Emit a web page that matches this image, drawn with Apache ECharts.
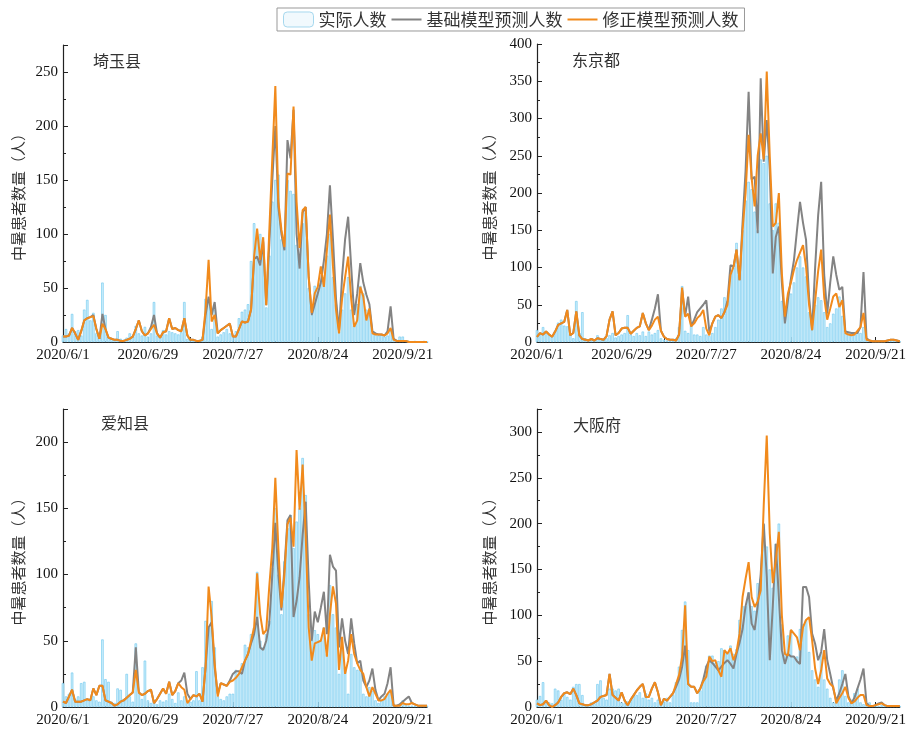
<!DOCTYPE html>
<html>
<head>
<meta charset="utf-8">
<title>中暑患者数量</title>
<script src="https://cdn.jsdelivr.net/npm/echarts@6/dist/echarts.min.js"></script>
<style>
  html, body { margin: 0; padding: 0; background: #fff; }
  #main { width: 909px; height: 729px; }
</style>
</head>
<body>
<div id="main"></div>
<script type="text/javascript">
// 日期：2020/6/1 起共 121 天
var dates = [];
for (var i = 0; i < 121; i++) {
    var dt = new Date(2020, 5, 1 + i);
    dates.push('2020/' + (dt.getMonth() + 1) + '/' + dt.getDate());
}

var seriesNames = ['实际人数', '基础模型预测人数', '修正模型预测人数'];
var regionNames = ['埼玉县', '东京都', '爱知县', '大阪府'];
var yMax = [275, 400, 225, 325];

// 埼玉县
var saitamaActual = [
    6, 12, 8, 26, 10, 11, 6, 30, 39, 20,
    27, 8, 4, 55, 25, 5, 3, 2, 10, 3,
    2, 4, 8, 5, 15, 8, 6, 14, 5, 8,
    37, 6, 5, 11, 7, 10, 9, 8, 7, 9,
    37, 3, 2, 1, 1, 2, 5, 40, 38, 12,
    30, 5, 7, 9, 12, 8, 6, 10, 22, 28,
    30, 35, 75, 110, 95, 100, 85, 32, 80, 130,
    150, 155, 95, 88, 150, 140, 137, 90, 75, 110,
    120, 50, 25, 52, 50, 55, 60, 80, 100, 60,
    35, 10, 30, 45, 60, 30, 15, 35, 52, 45,
    30, 25, 8, 8, 6, 7, 5, 6, 10, 3,
    2, 5, 5, 1, 1, 0, 1, 0, 0, 1, 0
];
var saitamaBase = [
    5, 5, 6, 13, 8, 2, 10, 20, 22, 23,
    25, 12, 3, 26, 12, 4, 3, 2, 2, 1,
    1, 2, 3, 5, 12, 20, 10, 6, 8, 14,
    25, 8, 4, 9, 10, 22, 12, 13, 11, 10,
    22, 6, 2, 2, 1, 1, 2, 25, 42, 25,
    37, 8, 11, 13, 15, 17, 5, 5, 12, 19,
    18, 19, 30, 77, 79, 71, 93, 34, 90, 150,
    200, 125, 100, 85, 187, 170, 215, 100, 68, 120,
    125, 60, 25, 35, 45, 55, 75, 100, 145, 95,
    40, 10, 60, 95, 116, 70, 25, 45, 73, 55,
    44, 35, 10, 8, 7, 7, 6, 10, 33, 3,
    1, 1, 1, 1, 0, 0, 0, 0, 0, 0, 0
];
var saitamaFix = [
    5, 5, 6, 13, 8, 2, 10, 20, 22, 23,
    24, 12, 3, 17, 12, 4, 3, 2, 2, 1,
    1, 2, 3, 5, 12, 20, 10, 6, 8, 12,
    16, 8, 4, 9, 10, 22, 12, 13, 11, 10,
    22, 6, 2, 2, 1, 1, 2, 30, 76, 19,
    25, 8, 11, 13, 15, 17, 5, 5, 12, 19,
    18, 19, 30, 79, 105, 76, 97, 34, 102, 170,
    237, 130, 104, 88, 156, 155, 218, 130, 87, 122,
    125, 60, 27, 45, 51, 70, 51, 85, 118, 70,
    30, 8, 40, 60, 79, 40, 14, 20, 51, 42,
    20, 31, 8, 7, 7, 7, 6, 8, 13, 2,
    1, 1, 1, 1, 0, 0, 0, 0, 0, 0, 0
];

// 东京都
var tokyoActual = [
    16, 12, 20, 14, 10, 8, 15, 26, 30, 22,
    21, 10, 5, 55, 12, 40, 5, 3, 4, 2,
    9, 4, 3, 5, 9, 12, 6, 8, 10, 12,
    36, 10, 8, 12, 9, 14, 8, 14, 10, 12,
    16, 5, 3, 2, 2, 2, 5, 20, 75, 15,
    12, 25, 10, 10, 8, 20, 10, 8, 12, 20,
    30, 45, 60, 55, 92, 100, 133, 90, 150, 190,
    215, 205, 175, 150, 245, 240, 250, 186, 150, 186,
    160, 55, 38, 60, 65, 80, 100, 115, 100, 88,
    40, 20, 50, 60, 56, 40, 20, 25, 38, 45,
    61, 35, 12, 12, 11, 10, 12, 12, 20, 3,
    2, 1, 2, 1, 1, 1, 1, 1, 2, 1, 1
];
var tokyoBase = [
    7, 12, 10, 14, 10, 7, 14, 23, 25, 27,
    43, 9, 12, 41, 9, 4, 3, 2, 4, 2,
    5, 4, 3, 8, 30, 41, 9, 12, 18, 19,
    19, 11, 15, 19, 21, 39, 25, 16, 30, 45,
    64, 15, 7, 4, 3, 3, 2, 10, 70, 35,
    61, 21, 30, 40, 45, 50, 56, 14, 25, 34,
    36, 32, 40, 55, 103, 101, 124, 83, 160, 230,
    336, 218, 222, 146, 354, 242, 298, 231, 92, 141,
    155, 80, 25, 56, 85, 110, 150, 188, 160, 137,
    60, 16, 100, 170, 215, 90, 38, 80, 115, 90,
    70, 74, 14, 13, 12, 12, 12, 20, 94, 5,
    2, 1, 1, 1, 1, 1, 2, 3, 3, 2, 1
];
var tokyoFix = [
    7, 12, 10, 14, 10, 7, 14, 23, 25, 27,
    43, 9, 12, 41, 9, 4, 3, 2, 4, 2,
    5, 4, 3, 8, 30, 41, 9, 12, 18, 19,
    19, 11, 15, 19, 21, 39, 25, 16, 22, 30,
    34, 15, 7, 4, 3, 3, 2, 10, 73, 34,
    38, 21, 25, 32, 36, 43, 18, 9, 25, 34,
    36, 32, 40, 50, 90, 101, 124, 83, 150, 200,
    278, 220, 182, 250, 280, 245, 363, 249, 155, 160,
    200, 92, 34, 65, 80, 97, 110, 120, 130, 101,
    50, 16, 55, 95, 124, 60, 30, 45, 61, 65,
    47, 56, 12, 10, 9, 10, 15, 20, 39, 3,
    2, 1, 1, 1, 1, 1, 2, 3, 3, 2, 1
];

// 爱知县
var aichiActual = [
    18, 8, 10, 26, 6, 8, 18, 19, 5, 6,
    8, 5, 4, 51, 21, 19, 4, 3, 14, 13,
    6, 25, 8, 4, 48, 11, 6, 35, 5, 3,
    5, 2, 5, 4, 5, 10, 6, 3, 11, 5,
    8, 3, 4, 5, 27, 5, 30, 65, 60, 80,
    45, 8, 6, 5, 8, 10, 10, 28, 25, 33,
    47, 45, 55, 60, 102, 50, 45, 55, 65, 105,
    150, 100, 70, 110, 135, 145, 120, 140, 150, 188,
    160, 70, 50, 58, 55, 50, 60, 40, 92, 70,
    60, 25, 45, 30, 10, 40, 30, 28, 30, 10,
    8, 15, 12, 5, 3, 5, 8, 10, 12, 2,
    1, 2, 5, 2, 1, 1, 1, 1, 1, 1, 1
];
var aichiBase = [
    4, 3, 8, 13, 4, 4, 4, 5, 6, 5,
    14, 9, 16, 16, 5, 4, 3, 1, 2, 4,
    5, 7, 9, 11, 45, 11, 9, 10, 12, 13,
    3, 6, 10, 14, 10, 19, 9, 12, 18, 20,
    26, 10, 6, 9, 8, 10, 4, 30, 60, 64,
    30, 10, 18, 17, 16, 20, 25, 27, 27, 25,
    35, 40, 48, 55, 68, 45, 43, 50, 63, 100,
    139, 100, 73, 105, 141, 145, 68, 80, 98, 130,
    155, 95, 50, 72, 64, 75, 87, 55, 115, 106,
    103, 45, 67, 50, 40, 67, 48, 33, 35, 20,
    15, 20, 29, 13, 5, 8, 10, 18, 30, 1,
    1, 2, 4, 6, 8, 3, 2, 1, 1, 1, 1
];
var aichiFix = [
    4, 3, 8, 13, 4, 4, 4, 5, 6, 5,
    14, 9, 16, 16, 5, 4, 3, 1, 2, 4,
    5, 7, 9, 11, 28, 11, 9, 10, 12, 13,
    3, 6, 10, 14, 10, 19, 9, 12, 18, 15,
    13, 3, 6, 9, 8, 10, 4, 30, 91, 68,
    33, 8, 18, 17, 16, 19, 20, 22, 25, 30,
    35, 40, 50, 60, 101, 70, 55, 58, 91, 120,
    173, 120, 75, 100, 138, 143, 121, 194, 149, 183,
    130, 60, 35, 48, 49, 50, 60, 38, 70, 91,
    78, 28, 53, 25, 35, 55, 40, 33, 28, 25,
    15, 8, 15, 10, 5, 5, 6, 10, 13, 1,
    1, 1, 3, 2, 2, 3, 2, 1, 1, 1, 1
];

// 大阪府
var osakaActual = [
    8, 12, 27, 6, 5, 4, 20, 18, 8, 15,
    11, 8, 22, 25, 25, 13, 3, 2, 5, 4,
    25, 29, 10, 8, 20, 20, 18, 20, 5, 4,
    6, 8, 13, 13, 16, 10, 15, 8, 10, 5,
    8, 5, 6, 10, 5, 13, 27, 44, 84, 115,
    62, 5, 5, 5, 18, 30, 45, 56, 56, 48,
    50, 64, 62, 58, 67, 58, 63, 95, 110, 110,
    125, 110, 105, 135, 140, 199, 175, 150, 130, 178,
    200, 90, 60, 78, 84, 55, 55, 85, 90, 95,
    60, 40, 30, 22, 60, 30, 20, 10, 5, 10,
    30, 40, 12, 5, 8, 15, 20, 5, 3, 2,
    5, 2, 1, 1, 2, 1, 1, 1, 1, 1, 1
];
var osakaBase = [
    4, 2, 3, 7, 2, 0, 2, 5, 11, 15,
    16, 14, 20, 13, 4, 3, 2, 2, 3, 5,
    7, 11, 12, 13, 36, 13, 10, 7, 16, 7,
    2, 8, 13, 18, 22, 25, 11, 11, 20, 27,
    16, 2, 9, 7, 11, 15, 22, 30, 44, 67,
    25, 22, 22, 15, 20, 30, 44, 51, 48, 44,
    40, 44, 48, 51, 47, 42, 58, 70, 85, 110,
    125, 91, 84, 110, 145, 200, 142, 51, 110, 178,
    120, 62, 47, 58, 55, 55, 50, 47, 131, 131,
    120, 80, 69, 51, 60, 85, 51, 36, 20, 7,
    15, 25, 36, 12, 4, 10, 20, 30, 42, 4,
    1, 1, 2, 4, 5, 2, 1, 1, 1, 1, 1
];
var osakaFix = [
    4, 2, 3, 7, 2, 0, 2, 5, 11, 15,
    16, 14, 20, 13, 4, 3, 2, 2, 3, 5,
    7, 11, 12, 13, 36, 13, 10, 7, 16, 7,
    2, 8, 13, 18, 22, 25, 11, 11, 20, 27,
    16, 2, 9, 7, 11, 15, 25, 35, 55, 111,
    25, 22, 22, 15, 20, 28, 33, 55, 50, 51,
    40, 33, 62, 58, 64, 51, 60, 80, 120, 140,
    158, 120, 109, 115, 127, 220, 296, 189, 135, 160,
    191, 100, 58, 56, 84, 80, 76, 62, 87, 95,
    98, 73, 42, 25, 40, 62, 31, 25, 22, 4,
    10, 15, 22, 10, 4, 6, 10, 13, 13, 2,
    1, 1, 2, 3, 4, 2, 1, 1, 1, 1, 1
];

var actualData = [saitamaActual, tokyoActual, aichiActual, osakaActual];
var baseData = [saitamaBase, tokyoBase, aichiBase, osakaBase];
var fixData = [saitamaFix, tokyoFix, aichiFix, osakaFix];

// 四个子图的位置
var grids = [
    {left: 63, top: 45, width: 364, height: 297},
    {left: 537, top: 44, width: 364, height: 298},
    {left: 63, top: 409, width: 364, height: 298},
    {left: 537, top: 409, width: 364, height: 298}
];
var nameGaps = [37, 40, 37, 40];
var labelPos = [[93, 53], [572, 52], [101, 415], [573, 417]];

var serifFont = 'Liberation Serif';
var cjkFont = 'Noto Sans CJK SC';

var xAxes = [], yAxes = [], series = [], graphics = [];
for (var k = 0; k < 4; k++) {
    xAxes.push({
        type: 'category',
        gridIndex: k,
        data: dates,
        boundaryGap: false,
        axisLine: {lineStyle: {color: '#222', width: 1.2}},
        axisTick: {inside: true, interval: 13, length: 5, lineStyle: {color: '#222'}},
        axisLabel: {interval: 27, color: '#111', fontFamily: serifFont, fontSize: 15, margin: 6}
    });
    yAxes.push({
        type: 'value',
        gridIndex: k,
        min: 0,
        max: yMax[k],
        interval: 50,
        name: '中暑患者数量（人）',
        nameLocation: 'middle',
        nameGap: nameGaps[k],
        nameTextStyle: {fontFamily: cjkFont, fontSize: 15, color: '#333'},
        axisLine: {show: true, lineStyle: {color: '#222', width: 1.2}},
        axisTick: {show: true, inside: true, length: 5, lineStyle: {color: '#222'}},
        minorTick: {show: true, splitNumber: 2, length: 3, lineStyle: {color: '#222'}},
        splitLine: {show: false},
        axisLabel: {showMaxLabel: yMax[k] % 50 === 0, color: '#111', fontFamily: serifFont, fontSize: 15, margin: 5}
    });
    series.push({
        name: seriesNames[0],
        type: 'bar',
        xAxisIndex: k,
        yAxisIndex: k,
        data: actualData[k],
        barCategoryGap: '20%',
        itemStyle: {color: '#cdeefb', borderColor: '#6ac6ef', borderWidth: 0.6},
        z: 1
    });
    series.push({
        name: seriesNames[1],
        type: 'line',
        xAxisIndex: k,
        yAxisIndex: k,
        data: baseData[k],
        symbol: 'none',
        lineStyle: {color: '#838383', width: 2},
        itemStyle: {color: '#838383'},
        z: 2
    });
    series.push({
        name: seriesNames[2],
        type: 'line',
        xAxisIndex: k,
        yAxisIndex: k,
        data: fixData[k],
        symbol: 'none',
        lineStyle: {color: '#f18a1c', width: 2},
        itemStyle: {color: '#f18a1c'},
        z: 3
    });
    graphics.push({
        type: 'text',
        left: labelPos[k][0],
        top: labelPos[k][1],
        style: {text: regionNames[k], font: '16px "' + cjkFont + '"', fill: '#333'}
    });
}

var myChart = echarts.init(document.getElementById('main'));
var option = {
    backgroundColor: '#fff',
    animation: false,
    legend: {
        data: [
            {name: seriesNames[0], itemStyle: {color: '#f1f9fd', borderColor: '#a6d8ee', borderWidth: 1}},
            {name: seriesNames[1], itemStyle: {opacity: 0}},
            {name: seriesNames[2], itemStyle: {opacity: 0}}
        ],
        top: 8,
        left: 277,
        itemWidth: 30,
        itemHeight: 15,
        itemGap: 4,
        padding: [3, 6],
        borderColor: '#999',
        borderWidth: 1,
        textStyle: {fontFamily: cjkFont, fontSize: 17, color: '#333'}
    },
    grid: grids,
    xAxis: xAxes,
    yAxis: yAxes,
    series: series,
    graphic: graphics
};
myChart.setOption(option);
</script>
</body>
</html>
